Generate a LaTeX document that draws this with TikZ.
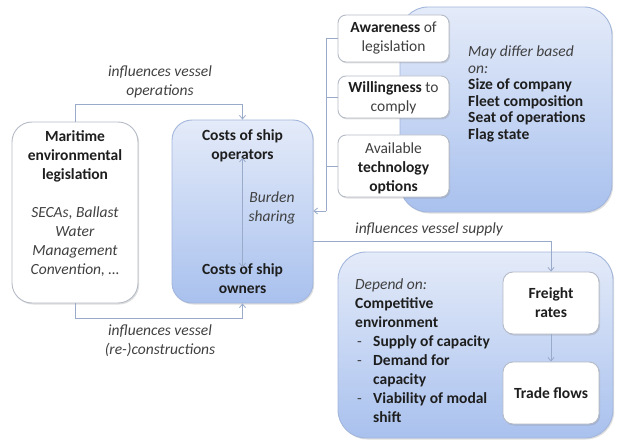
\documentclass[tikz,border=0pt]{standalone}
\usepackage{fontspec}
\setmainfont{Carlito}
\usetikzlibrary{arrows.meta,shadows,calc}
\definecolor{txtb}{HTML}{1E1E1E}
\definecolor{txtg}{HTML}{404040}
\definecolor{conncol}{HTML}{9AAACB}
\definecolor{bluetop}{HTML}{E4EBF9}
\definecolor{bluebot}{HTML}{A9C1EE}
\definecolor{blueedge}{HTML}{A3B6DC}
\definecolor{whiteedge}{HTML}{B4BAC6}
\tikzset{
  conn/.style={draw=conncol,line width=0.8pt},
  arr/.style={-{Straight Barb[length=3.5pt,width=6pt]}},
  wbox/.style={draw=whiteedge,fill=white,line width=0.9pt,inner sep=0pt,
    drop shadow={opacity=0.25,shadow xshift=1.2pt,shadow yshift=-1.5pt}},
  bbox/.style={draw=blueedge,top color=bluetop,bottom color=bluebot,line width=0.9pt,inner sep=0pt,
    drop shadow={opacity=0.25,shadow xshift=1.2pt,shadow yshift=-1.5pt}},
  txt/.style={font=\fontsize{15.5}{19}\selectfont,align=center,inner sep=0pt,text=txtg},
  ltxt/.style={font=\fontsize{15.5}{19}\selectfont,align=left,inner sep=0pt,text=txtg,anchor=west},
}
\newcommand{\bt}[1]{\textbf{\textcolor{txtb}{#1}}}
\newcommand{\dsh}{\makebox[18pt][l]{\hspace{2pt}-}}
\newcommand{\ind}{\hspace*{18pt}}
\begin{document}
\begin{tikzpicture}[x=1pt,y=-1pt]
\useasboundingbox (0,0) rectangle (618,441);
% big blue boxes
\node[bbox,rounded corners=28pt,minimum width=212pt,minimum height=205pt] (tr) at (506,109.5) {};
\node[bbox,rounded corners=28pt,minimum width=275pt,minimum height=186pt] (br) at (475.5,345) {};
% left boxes
\node[wbox,rounded corners=20pt,minimum width=126pt,minimum height=181pt] (leg) at (75,212.5) {};
\node[bbox,rounded corners=20pt,minimum width=141pt,minimum height=183pt] (costs) at (242.5,211.5) {};
% small boxes
\node[wbox,rounded corners=8pt,minimum width=111pt,minimum height=47pt] (aw) at (393.5,38.5) {};
\node[wbox,rounded corners=8pt,minimum width=111pt,minimum height=42pt] (wi) at (393.5,97) {};
\node[wbox,rounded corners=8pt,minimum width=111pt,minimum height=62pt] (av) at (393.5,166) {};
\node[wbox,rounded corners=10pt,minimum width=96pt,minimum height=62pt] (fr) at (551,303) {};
\node[wbox,rounded corners=10pt,minimum width=96pt,minimum height=62pt] (tf) at (551,393) {};
% texts
\node[txt] (legt) at (75,156) {\bt{Maritime}\\\bt{environmental}\\\bt{legislation}};
\node[txt] (legi) at (75,241.5) {\textit{SECAs, Ballast}\\\textit{Water}\\\textit{Management}\\\textit{Convention, …}};
\node[txt] (costop) at (242.5,145.5) {\bt{Costs of ship}\\\bt{operators}};
\node[txt] (costown) at (242.5,278.5) {\bt{Costs of ship}\\\bt{owners}};
\node[txt] (burden) at (272,207.5) {\textit{Burden}\\\textit{sharing}};
\node[txt] (awt) at (393.5,38) {\bt{Awareness} of\\legislation};
\node[txt] (wit) at (393.5,98) {\bt{Willingness} to\\comply};
\node[txt] (avt) at (393.5,168) {Available\\\bt{technology}\\\bt{options}};
\node[txt] (frt) at (551,303) {\bt{Freight}\\\bt{rates}};
\node[txt] (tft) at (551,393) {\bt{Trade flows}};
\node[ltxt,font=\fontsize{15.5}{16.5}\selectfont] (may) at (468,94) {\textit{May differ based}\\\textit{on:}\\\bt{Size of company}\\\bt{Fleet composition}\\\bt{Seat of operations}\\\bt{Flag state}};
\node[ltxt] (dep) at (355,351) {\textit{Depend on:}\\\bt{Competitive}\\\bt{environment}\\
\dsh\bt{Supply of capacity}\\
\dsh\bt{Demand for}\\
\ind\bt{capacity}\\
\dsh\bt{Viability of modal}\\
\ind\bt{shift}};
\node[txt] (lop) at (160,81.5) {\textit{influences vessel}\\\textit{operations}};
\node[txt] (lrec) at (160,340.5) {\textit{influences vessel}\\\textit{(re-)constructions}};
\node[ltxt] (lsup) at (355,229) {\textit{influences vessel supply}};
% connectors
\draw[conn,arr] (leg.north) -- ++(0,-17) -| (costs.north);
\draw[conn,arr] (leg.south) -- ++(0,15) -| (costs.south);
\draw[conn,{Straight Barb[length=3.5pt,width=6pt]}-{Straight Barb[length=3.5pt,width=6pt]}] ([yshift=4pt]costop.south) -- ([yshift=-4pt]costown.north);
\coordinate (bk) at (326,211);
\draw[conn] (aw.west) -| (bk);
\draw[conn] (wi.west) -- (wi.west -| bk);
\draw[conn] (av.west) -- (av.west -| bk);
\draw[conn,arr] (bk) -- (bk -| costs.east);
\coordinate (sup) at (313,241);
\draw[conn,arr] (sup) -| (fr.north);
\draw[conn,arr] (fr.south) -- (tf.north);
\end{tikzpicture}
\end{document}
